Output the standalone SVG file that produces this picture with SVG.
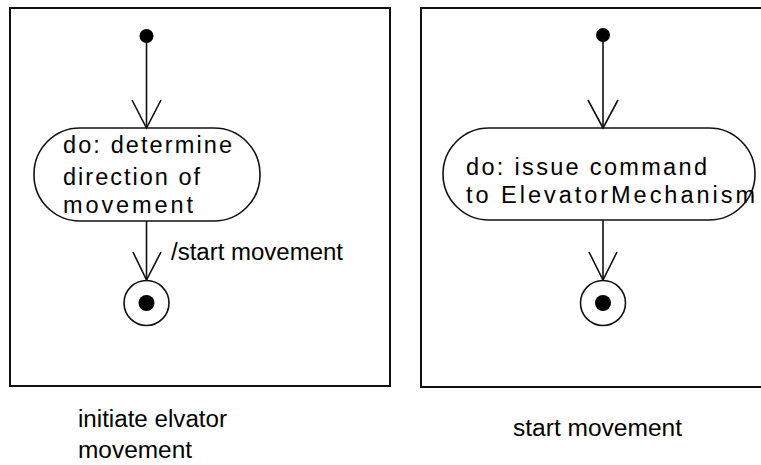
<svg xmlns="http://www.w3.org/2000/svg" width="761" height="465" viewBox="0 0 761 465">
  <style>
    .frame { fill: none; stroke: #111; stroke-width: 2; }
    .state { fill: #fff; stroke: #111; stroke-width: 1.6; }
    .dot { fill: #000; }
    .flow { fill: none; stroke: #111; stroke-width: 1.6; }
    .txt { font-family: "Liberation Sans", Arial, sans-serif; fill: #000; }
    .act { font-size: 23.5px; }
    .lbl { font-size: 23px; }
  </style>
  <rect width="761" height="465" fill="#fff"/>

  <!-- diagram frames -->
  <g id="frame-initiate">
    <rect class="frame" x="10" y="8" width="380" height="378"/>
  </g>
  <g id="frame-start">
    <rect class="frame" x="421" y="8" width="350" height="379"/>
  </g>

  <!-- left diagram nodes -->
  <g id="initial-left">
    <circle class="dot" cx="146.5" cy="36" r="7"/>
  </g>
  <g id="activity-determine">
    <rect class="state" x="34" y="128" width="226" height="93" rx="46" ry="46"/>
    <text class="txt act" x="63" y="153" textLength="169" lengthAdjust="spacing">do: determine</text>
    <text class="txt act" x="63" y="185" textLength="137" lengthAdjust="spacing">direction of</text>
    <text class="txt act" x="63" y="213" textLength="130" lengthAdjust="spacing">movement</text>
  </g>
  <g id="final-left">
    <circle class="state" cx="146.5" cy="303" r="22.5"/>
    <circle class="dot" cx="146.5" cy="303" r="8"/>
  </g>

  <!-- right diagram nodes -->
  <g id="initial-right">
    <circle class="dot" cx="603" cy="35" r="7"/>
  </g>
  <g id="activity-issue">
    <rect class="state" x="443" y="128" width="312" height="92" rx="46" ry="46"/>
    <text class="txt act" x="466" y="175" textLength="241" lengthAdjust="spacing">do: issue command</text>
    <text class="txt act" x="466" y="203" textLength="289" lengthAdjust="spacing">to ElevatorMechanism</text>
  </g>
  <g id="final-right">
    <circle class="state" cx="603" cy="303" r="22.5"/>
    <circle class="dot" cx="603" cy="303" r="8"/>
  </g>

  <!-- transitions -->
  <g id="connectors">
    <line class="flow" x1="146.5" y1="40" x2="146.5" y2="128"/>
    <polyline class="flow" points="132,100 146.5,128 161,100"/>
    <line class="flow" x1="146.5" y1="221" x2="146.5" y2="280"/>
    <polyline class="flow" points="133,252 146.5,280 161,252"/>
    <text class="txt lbl" x="171" y="260" textLength="172" lengthAdjust="spacingAndGlyphs">/start movement</text>

    <line class="flow" x1="603" y1="39" x2="603" y2="128"/>
    <polyline class="flow" points="588,100 603,128 618,100"/>
    <line class="flow" x1="603" y1="220" x2="603" y2="280"/>
    <polyline class="flow" points="589,252 603,280 617,252"/>
  </g>

  <!-- diagram captions -->
  <text class="txt lbl" x="78" y="427" textLength="149" lengthAdjust="spacingAndGlyphs">initiate elvator</text>
  <text class="txt lbl" x="78" y="458" textLength="114" lengthAdjust="spacingAndGlyphs">movement</text>
  <text class="txt lbl" x="513" y="436" textLength="169" lengthAdjust="spacingAndGlyphs">start movement</text>
</svg>
